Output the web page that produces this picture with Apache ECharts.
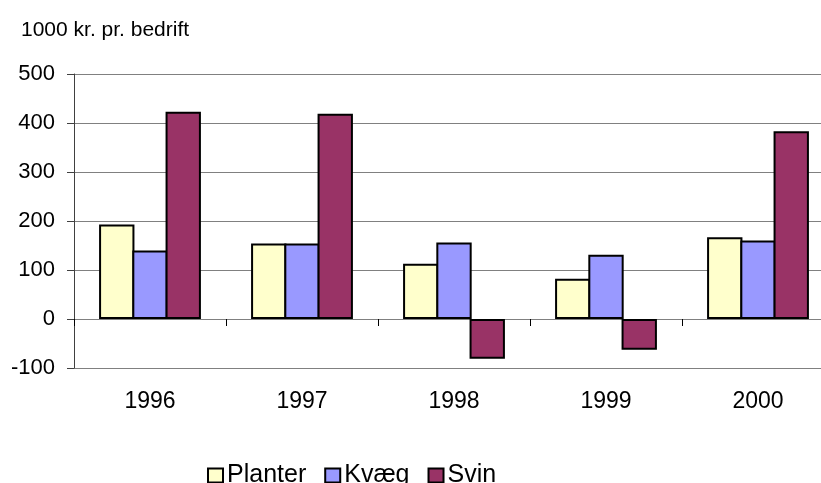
<!DOCTYPE html>
<html>
<head>
<meta charset="utf-8">
<script src="https://cdn.jsdelivr.net/npm/echarts@6/dist/echarts.min.js"></script>
<style>
html,body{margin:0;padding:0;background:#fff;}
#c{width:821px;height:483px;}
</style>
</head>
<body>
<div id="c"></div>
<script>
const categories = ['1996', '1997', '1998', '1999', '2000'];
const planter = [193, 154, 113, 82, 167];
const kvaeg = [140, 154, 156, 131, 160];
const svin = [423, 419, -81, -63, 383];
const seriesNames = ['Planter', 'Kvæg', 'Svin'];
const yTicks = { min: -100, max: 500, interval: 100 };

const font = '"Liberation Sans", Arial, sans-serif';
const chart = echarts.init(document.getElementById('c'), null, { renderer: 'canvas' });
const barStyle = (color) => ({ color: color, borderColor: '#000', borderWidth: 2 });

chart.setOption({
  animation: false,
  backgroundColor: '#fff',
  title: {
    text: '1000 kr. pr. bedrift',
    left: 16, top: 15,
    textStyle: { fontFamily: font, fontSize: 21, fontWeight: 'normal', color: '#000' }
  },
  legend: {
    data: seriesNames,
    icon: 'rect',
    left: 202, top: 458,
    itemWidth: 15, itemHeight: 14, itemGap: 18,
    textStyle: { fontFamily: font, fontSize: 25, color: '#000', padding: [0, 0, 0, -1] }
  },
  grid: { left: 74, top: 74, width: 760, bottom: 115, containLabel: false, outerBoundsMode: 'none' },
  xAxis: [
    {
      type: 'category', data: categories, position: 'bottom',
      axisLine: { show: false, onZero: false },
      axisTick: { show: false },
      axisLabel: { margin: 22, fontFamily: font, fontSize: 23, color: '#000' }
    },
    {
      type: 'category', data: categories, position: 'top',
      axisLine: { show: true, onZero: true, lineStyle: { color: '#808080', width: 1 } },
      axisTick: { show: true, inside: true, length: 7, lineStyle: { color: '#000', width: 1 } },
      axisLabel: { show: false }
    }
  ],
  yAxis: {
    type: 'value', min: yTicks.min, max: yTicks.max, interval: yTicks.interval,
    axisLine: { show: true, lineStyle: { color: '#404040', width: 1 } },
    axisTick: { show: true, length: 7, lineStyle: { color: '#404040' } },
    axisLabel: { margin: 19, fontFamily: font, fontSize: 22, color: '#000' },
    splitLine: { show: true, lineStyle: { color: '#808080', width: 1 } }
  },
  series: [
    { name: seriesNames[0], type: 'bar', data: planter, barGap: '-6%', barCategoryGap: '33%', itemStyle: barStyle('#FFFFCC') },
    { name: seriesNames[1], type: 'bar', data: kvaeg, barGap: '-6%', barCategoryGap: '33%', itemStyle: barStyle('#9999FF') },
    { name: seriesNames[2], type: 'bar', data: svin, barGap: '-6%', barCategoryGap: '33%', itemStyle: barStyle('#993366') }
  ]
});
</script>
</body>
</html>
